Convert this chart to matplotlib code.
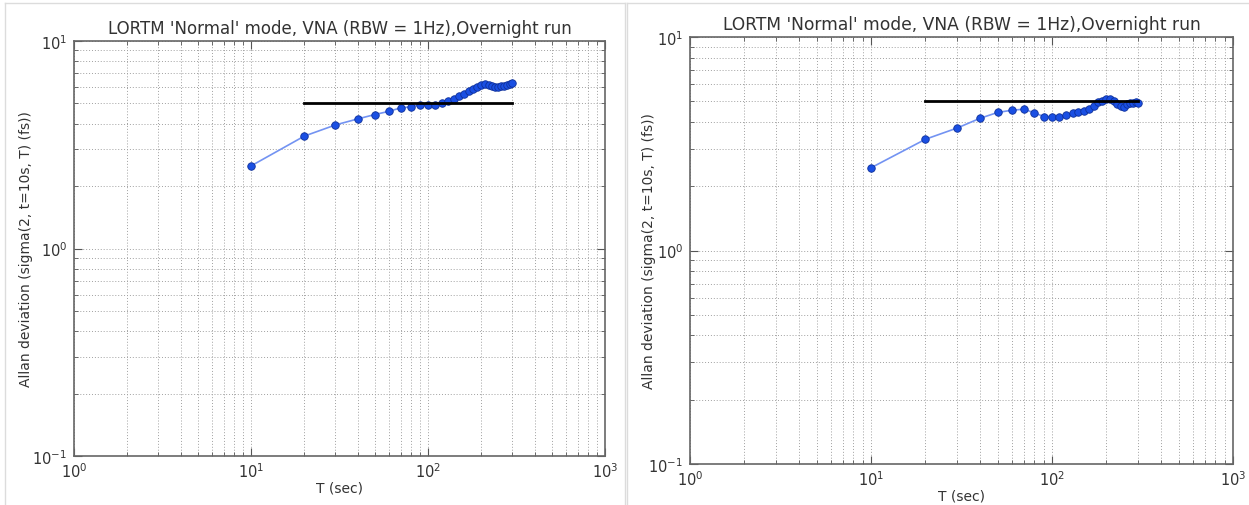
import matplotlib
matplotlib.use("Agg")
import matplotlib.pyplot as plt
from matplotlib.lines import Line2D
from matplotlib.ticker import LogLocator, NullFormatter

# ---- data ----
T_sec = [10, 20, 30, 40, 50, 60, 70, 80, 90, 100,
         110, 120, 130, 140, 150, 160, 170, 180, 190, 200,
         210, 220, 230, 240, 250, 260, 270, 280, 290, 300]

adev_left = [2.50, 3.48, 3.94, 4.21, 4.42, 4.58, 4.76, 4.82, 4.92, 4.92,
             4.93, 5.04, 5.14, 5.27, 5.43, 5.58, 5.72, 5.87, 6.03, 6.14,
             6.18, 6.14, 6.07, 6.03, 6.03, 6.06, 6.09, 6.14, 6.18, 6.25]

adev_right = [2.44, 3.32, 3.75, 4.16, 4.43, 4.54, 4.59, 4.41, 4.24, 4.24,
              4.24, 4.30, 4.41, 4.43, 4.49, 4.60, 4.77, 4.95, 5.04, 5.10,
              5.10, 5.04, 4.88, 4.74, 4.70, 4.84, 4.89, 4.93, 4.95, 4.93]

spec_T = [20, 300]
spec_level = [5.0, 5.0]

title_text = "LORTM 'Normal' mode, VNA (RBW = 1Hz),Overnight run"
xlabel_text = "T (sec)"
ylabel_text = "Allan deviation (sigma(2, t=10s, T) (fs))"

W, H = 1249, 506
fig = plt.figure(figsize=(W / 100, H / 100), dpi=100)
fig.patch.set_facecolor("white")

# panel borders (screenshot frames)
border = "#dcdcdc"
for (x0, x1) in [(5, 625), (627, 1249)]:
    fig.add_artist(Line2D([x0 / W, x0 / W], [0, 1 - 4 / H], color=border, lw=1))
    fig.add_artist(Line2D([x0 / W, x1 / W], [1 - 4 / H, 1 - 4 / H], color=border, lw=1))
fig.add_artist(Line2D([625 / W, 625 / W], [0, 1 - 4 / H], color=border, lw=1))


def make_panel(rect, yvals, ylab_x, fs):
    ax = fig.add_axes(rect)
    ax.set_xscale("log")
    ax.set_yscale("log")
    ax.plot(T_sec, yvals, "-", color="#7393f2", lw=1.2, zorder=3)
    ax.plot(T_sec, yvals, "o", color="#1a4fe3", mec="#0d2f9a", mew=0.6, ms=5.4, zorder=4)
    ax.plot(spec_T, spec_level, "-", color="black", lw=2.0, zorder=5)
    ax.set_xlim(1, 1000)
    ax.set_ylim(0.1, 10)
    ax.xaxis.set_major_locator(LogLocator(base=10))
    ax.yaxis.set_major_locator(LogLocator(base=10))
    ax.xaxis.set_minor_locator(LogLocator(base=10, subs=range(2, 10)))
    ax.yaxis.set_minor_locator(LogLocator(base=10, subs=range(2, 10)))
    ax.xaxis.set_minor_formatter(NullFormatter())
    ax.yaxis.set_minor_formatter(NullFormatter())
    ax.grid(True, which="both", color="#a0a0a0", linestyle=(0, (1, 2)), lw=0.7)
    ax.tick_params(which="both", direction="in", top=True, right=True,
                   colors="#555555", labelcolor="#333333", labelsize=10.5)
    ax.tick_params(which="major", length=6)
    ax.tick_params(which="minor", length=3)
    ax.tick_params(axis="x", pad=4)
    ax.tick_params(axis="y", pad=5)
    for s in ax.spines.values():
        s.set_color("#666666")
        s.set_linewidth(1.2)
    ax.set_title(title_text, fontsize=fs, color="#333333", pad=6)
    ax.set_xlabel(xlabel_text, fontsize=10, color="#333333", labelpad=0)
    ax.set_ylabel(ylabel_text, fontsize=10, color="#333333")
    ax.yaxis.set_label_coords(ylab_x, 0.5)
    return ax


make_panel([74 / W, 1 - 457 / H, 531 / W, 415 / H], adev_left, -0.077, 12)
make_panel([690 / W, 1 - 465 / H, 543 / W, 427 / H], adev_right, -0.063, 12.3)

fig.savefig("out.png", dpi=100, facecolor="white")
